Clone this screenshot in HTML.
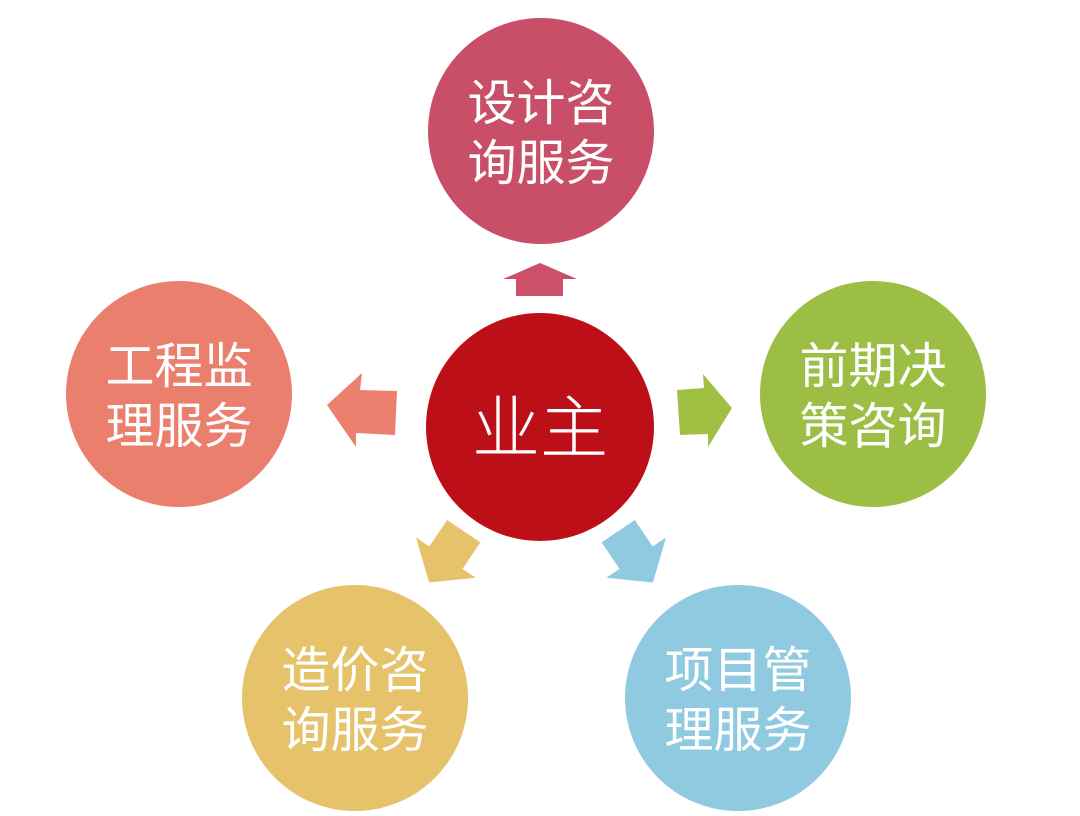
<!DOCTYPE html>
<html><head><meta charset="utf-8"><style>
html,body{margin:0;padding:0;background:#fff;}
svg{display:block;}
text{font-family:"Liberation Sans","Noto Sans CJK SC",sans-serif;fill:#fff;text-anchor:middle;}
</style></head><body>
<svg width="1080" height="816" viewBox="0 0 1080 816" xmlns="http://www.w3.org/2000/svg">
<rect width="1080" height="816" fill="#fff"/>
<circle cx="541" cy="131" r="113" fill="#C94F68"/>
<circle cx="540" cy="427" r="114" fill="#BC0F17"/>
<circle cx="873" cy="394" r="113" fill="#9DBE45"/>
<circle cx="179" cy="394" r="113" fill="#EB7F6E"/>
<circle cx="355" cy="698" r="113" fill="#E6C26A"/>
<circle cx="738" cy="698" r="113" fill="#8FCAE1"/>
<!-- arrows -->
<polygon points="503,279 540,263 577,279 563,279 563,296 516,296 516,279" fill="#CB5068"/>
<polygon points="327,405 362,373 360,390 397,391 395,435 356,433 356,447" fill="#EC7F6E"/>
<polygon points="677,390 704,388 703,374 732,408 708,447 708,434 680,435" fill="#9FC043"/>
<g transform="translate(447,556) rotate(124)"><polygon points="-30,-20 2,-20 2,-36 32,0 2,36 2,20 -30,20" fill="#E6C26A"/></g>
<g transform="translate(635,556) rotate(56)"><polygon points="-30,-20 2,-20 2,-36 32,0 2,36 2,20 -30,20" fill="#8FCAE1"/></g>
<!-- texts -->
<g font-size="49">
<text x="541" y="120">设计咨</text>
<text x="541" y="180">询服务</text>
<text x="873" y="383">前期决</text>
<text x="873" y="443">策咨询</text>
<text x="179" y="383">工程监</text>
<text x="179" y="443">理服务</text>
<text x="355" y="687">造价咨</text>
<text x="355" y="747">询服务</text>
<text x="738" y="687">项目管</text>
<text x="738" y="747">理服务</text>
</g>
<text x="540" y="452" font-size="68" font-weight="300">业主</text>
</svg>
</body></html>
